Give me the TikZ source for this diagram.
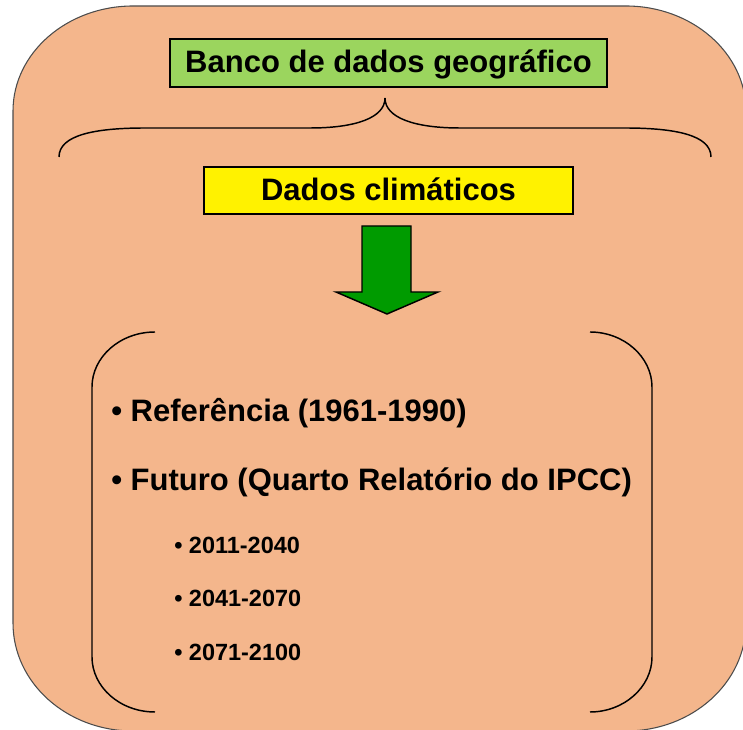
\documentclass[tikz,border=0pt]{standalone}
\usepackage{fontspec}
\setmainfont{Liberation Sans}
\definecolor{peach}{RGB}{244,182,140}
\definecolor{boxgreen}{RGB}{155,213,94}
\definecolor{arrowgreen}{RGB}{0,155,0}
\tikzset{
  titlebox/.style={draw=black, line width=1.1pt, inner sep=0pt,
    font=\fontsize{23.25pt}{28pt}\selectfont\bfseries,
    text height=16.7pt, text depth=2.3pt},
  bigitem/.style={anchor=base west, inner sep=0pt,
    font=\fontsize{23.25pt}{28pt}\selectfont\bfseries},
  smallitem/.style={anchor=base west, inner sep=0pt,
    font=\fontsize{17.6pt}{21pt}\selectfont\bfseries},
  bracketline/.style={draw=black, line width=1.1pt}
}
\begin{document}
\begin{tikzpicture}[x=0.75pt,y=-0.75pt]
\useasboundingbox (0,0) rectangle (743,730);
\clip (0,0) rectangle (743,730);
% outer rounded frame
\draw[fill=peach, draw=black!70, line width=0.8pt]
  (13,111) .. controls (13,53) and (67,6) .. (133,6) -- (626,6)
  .. controls (692,6) and (746,53) .. (746,111) -- (746,623)
  .. controls (746,683) and (692,731) .. (626,731) -- (133,731)
  .. controls (67,731) and (13,683) .. (13,623) -- cycle;

\node[titlebox, fill=boxgreen, minimum width=327.75pt, minimum height=36pt] (banco) at (388.5,63) {Banco de dados geográfico};
\node[titlebox, fill=yellow, minimum width=276.75pt, minimum height=35.25pt] (clima) at (388.5,190.5) {Dados climáticos};

% brace
\coordinate (tip) at (385,98);
\draw[bracketline] (59,157) .. controls (59,135) and (95,128) .. (145,128) -- (310,128)
  .. controls (355,128) and (385,118) .. (tip)
  .. controls (385,118) and (415,128) .. (460,128) -- (625,128)
  .. controls (675,128) and (711,135) .. (711,157);

% arrow
\draw[fill=arrowgreen, draw=black, line width=1.1pt, line join=miter]
  (362,226) -- (411,226) -- (411,292) -- (438,292) -- (387,314)
  -- (336,292) -- (362,292) -- cycle;

% brackets
\draw[bracketline] (155,332) .. controls (120,332) and (92,357) .. (92,387) -- (92,657)
  .. controls (92,687) and (120,712) .. (155,712);
\draw[bracketline] (590,332) .. controls (624,332) and (652,357) .. (652,387) -- (652,657)
  .. controls (652,687) and (624,712) .. (590,712);

\node[bigitem] (ref) at (111,422) {• Referência (1961-1990)};
\node[bigitem] (futuro) at (111,491) {• Futuro (Quarto Relatório do IPCC)};
\foreach \y/\t in {554/2011-2040, 607/2041-2070, 661/2071-2100}
{
	\node[smallitem] (periodo\y) at (174,\y) {• \t};
}
\end{tikzpicture}
\end{document}
